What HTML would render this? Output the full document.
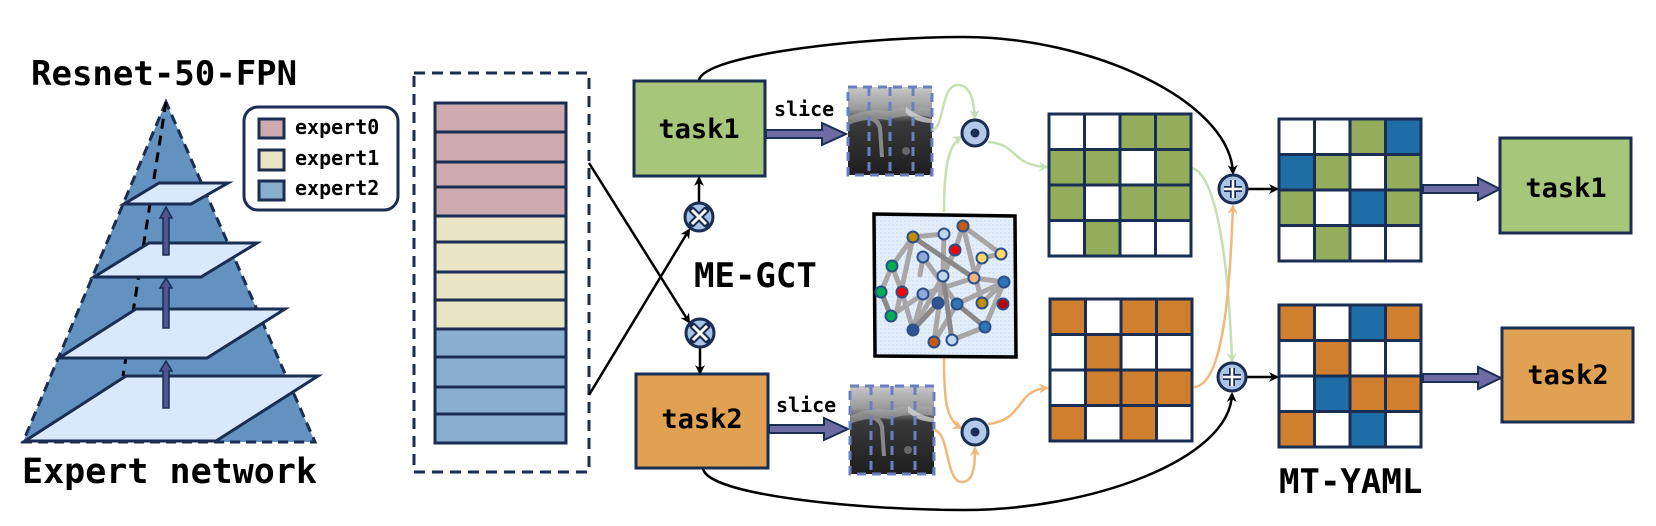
<!DOCTYPE html>
<html><head><meta charset="utf-8"><style>
html,body{margin:0;padding:0;background:#fff;}
svg{display:block;}
text{font-family:"DejaVu Sans Mono","Liberation Mono",monospace;font-weight:bold;fill:#000;}
</style></head><body>
<svg width="1656" height="526" viewBox="0 0 1656 526" xmlns="http://www.w3.org/2000/svg">
<defs>
<marker id="ab" markerWidth="10" markerHeight="10" refX="8" refY="5" orient="auto" markerUnits="userSpaceOnUse"><path d="M0,0 L10,5 L0,10 L3,5 Z" fill="#000"/></marker>
<marker id="ag" markerWidth="10" markerHeight="10" refX="8" refY="5" orient="auto" markerUnits="userSpaceOnUse"><path d="M0,0 L10,5 L0,10 L3,5 Z" fill="#c5e0b4"/></marker>
<marker id="ao" markerWidth="10" markerHeight="10" refX="8" refY="5" orient="auto" markerUnits="userSpaceOnUse"><path d="M0,0 L10,5 L0,10 L3,5 Z" fill="#f0b87a"/></marker>
<pattern id="dots" width="4" height="4" patternUnits="userSpaceOnUse"><rect width="4" height="4" fill="#e4eefa"/><circle cx="1" cy="1" r="0.7" fill="#c4d6ee"/></pattern>
<linearGradient id="us" x1="0" y1="0" x2="0" y2="1"><stop offset="0" stop-color="#c8c8c8"/><stop offset="0.25" stop-color="#9a9a9a"/><stop offset="0.4" stop-color="#3a3a3a"/><stop offset="1" stop-color="#1e1e1e"/></linearGradient>
<g id="usimg">
<rect x="0" y="0" width="84" height="88" fill="url(#us)"/>
<path d="M0,30 Q20,20 40,24 Q60,16 84,22 L84,30 Q60,26 40,33 Q20,30 0,38Z" fill="#aaa" opacity="0.6"/>
<path d="M12,28 Q30,26 34,40 L36,70 L32,70 L30,42 Q28,32 12,32Z" fill="#888"/>
<path d="M58,20 Q70,30 84,32 L84,36 Q68,36 58,26Z" fill="#ddd" opacity="0.7"/>
<circle cx="58" cy="64" r="4" fill="#666"/>
<rect x="0" y="0" width="84" height="88" fill="none" stroke="#6b7fc0" stroke-width="3" stroke-dasharray="9,6"/>
<line x1="21" y1="0" x2="21" y2="88" stroke="#6b7fc0" stroke-width="3" stroke-dasharray="9,6"/>
<line x1="42" y1="0" x2="42" y2="88" stroke="#6b7fc0" stroke-width="3" stroke-dasharray="9,6"/>
<line x1="65" y1="0" x2="65" y2="88" stroke="#6b7fc0" stroke-width="3" stroke-dasharray="9,6"/>
</g>
</defs>

<text x="31" y="85" font-size="34">Resnet-50-FPN</text>
<polygon points="166,102 23,442 315,442" fill="#6492c0" stroke="#1a2d52" stroke-width="3" stroke-dasharray="10,6"/>
<line x1="166" y1="102" x2="123" y2="376" stroke="#000" stroke-width="3" stroke-dasharray="10,7"/>
<g fill="#dae8fc" stroke="#1a2d52" stroke-width="3" stroke-linejoin="miter">
<polygon points="126,376 318,376 216,441 25,441"/>
<polygon points="136,309 285,309 207,358 59,358"/>
<polygon points="149,243 257,243 201,277 94,277"/>
<polygon points="159,183 228,183 191,204 124,204"/>
</g>
<g fill="#4f5590" stroke="#1a2d52" stroke-width="1.5">
<path d="M163,408 L163,371 L160,371 L166,361 L172,371 L169,371 L169,408Z"/>
<path d="M163,328 L163,288 L160,288 L166,278 L172,288 L169,288 L169,328Z"/>
<path d="M163,255 L163,218 L160,218 L166,207 L172,218 L169,218 L169,255Z"/>
</g>
<text x="22" y="483" font-size="35">Expert network</text>

<rect x="244" y="107" width="154" height="103" rx="14" fill="#fff" stroke="#1a2d52" stroke-width="3"/>
<rect x="259" y="119" width="25" height="19" fill="#cdaaad" stroke="#1a2d52" stroke-width="3"/>
<rect x="259" y="150" width="25" height="20" fill="#e9e4c4" stroke="#1a2d52" stroke-width="3"/>
<rect x="259" y="181" width="25" height="19" fill="#89aece" stroke="#1a2d52" stroke-width="3"/>
<text x="295" y="134" font-size="20">expert0</text>
<text x="295" y="165" font-size="20">expert1</text>
<text x="295" y="195" font-size="20">expert2</text>

<rect x="414" y="73" width="175" height="399" fill="none" stroke="#1a2d52" stroke-width="3" stroke-dasharray="11,7"/>
<g stroke="#1a2d52" stroke-width="3">
<rect x="435" y="103" width="131" height="29" fill="#cdaaad"/>
<rect x="435" y="132" width="131" height="30" fill="#cdaaad"/>
<rect x="435" y="162" width="131" height="25" fill="#cdaaad"/>
<rect x="435" y="187" width="131" height="29" fill="#cdaaad"/>
<rect x="435" y="216" width="131" height="26" fill="#e9e4c4"/>
<rect x="435" y="242" width="131" height="30" fill="#e9e4c4"/>
<rect x="435" y="272" width="131" height="28" fill="#e9e4c4"/>
<rect x="435" y="300" width="131" height="29" fill="#e9e4c4"/>
<rect x="435" y="329" width="131" height="28" fill="#89aece"/>
<rect x="435" y="357" width="131" height="30" fill="#89aece"/>
<rect x="435" y="387" width="131" height="27" fill="#89aece"/>
<rect x="435" y="414" width="131" height="29" fill="#89aece"/>
</g>

<line x1="589" y1="163" x2="689" y2="322" stroke="#000" stroke-width="2.5" marker-end="url(#ab)"/>
<line x1="589" y1="395" x2="689" y2="230" stroke="#000" stroke-width="2.5" marker-end="url(#ab)"/>

<path d="M699,80 C705,55 860,37 964,37 C1090,37 1230,100 1233,173" fill="none" stroke="#000" stroke-width="2.5" marker-end="url(#ab)"/>
<path d="M703,468 C705,495 860,510 964,510 C1090,510 1230,460 1232,394" fill="none" stroke="#000" stroke-width="2.5" marker-end="url(#ab)"/>

<rect x="634" y="81" width="131" height="95" fill="#a7c67a" stroke="#1a2d52" stroke-width="3"/>
<text x="699" y="138" font-size="27" text-anchor="middle">task1</text>
<rect x="636" y="374" width="132" height="94" fill="#e1a152" stroke="#1a2d52" stroke-width="3"/>
<text x="702" y="428" font-size="27" text-anchor="middle">task2</text>

<line x1="699" y1="202" x2="699" y2="178" stroke="#000" stroke-width="2.5" marker-end="url(#ab)"/>
<line x1="700" y1="348" x2="700" y2="373" stroke="#000" stroke-width="2.5" marker-end="url(#ab)"/>
<g stroke="#1a2d52">
<circle cx="699" cy="217" r="14" fill="#aac4e6" stroke-width="3"/>
<circle cx="700" cy="333" r="14" fill="#aac4e6" stroke-width="3"/>
</g>
<g stroke="#1a2d52" stroke-width="7" stroke-linecap="round"><path d="M692,210 L706,224 M706,210 L692,224"/><path d="M693,326 L707,340 M707,326 L693,340"/></g>
<g stroke="#fff" stroke-width="3"><path d="M692,210 L706,224 M706,210 L692,224"/><path d="M693,326 L707,340 M707,326 L693,340"/></g>
<text x="694" y="287" font-size="34">ME-GCT</text>

<text x="774" y="116" font-size="20">slice</text>
<text x="776" y="412" font-size="20">slice</text>
<path d="M766,130 L822,130 L822,123 L846,134 L822,145 L822,138 L766,138Z" fill="#6c6ca3" stroke="#1a2d52" stroke-width="2"/>
<path d="M769,425 L824,425 L824,418 L848,429 L824,440 L824,433 L769,433Z" fill="#6c6ca3" stroke="#1a2d52" stroke-width="2"/>
<use href="#usimg" x="848" y="87"/>
<use href="#usimg" x="850" y="386"/>

<g fill="none" stroke-width="2.5">
<path d="M932,130 C945,128 940,85 958,85 C972,85 974,105 975,118" stroke="#c5e0b4" marker-end="url(#ag)"/>
<path d="M944,212 C944,170 948,145 961,137" stroke="#c5e0b4" marker-end="url(#ag)"/>
<path d="M988,142 C1020,145 1010,165 1047,167" stroke="#c5e0b4" marker-end="url(#ag)"/>
<path d="M1192,168 C1215,175 1228,250 1232,361" stroke="#c5e0b4" marker-end="url(#ag)"/>
<path d="M944,357 C944,400 946,420 961,428" stroke="#f0b87a" marker-end="url(#ao)"/>
<path d="M934,430 C950,432 945,482 962,482 C975,482 975,460 975,448" stroke="#f0b87a" marker-end="url(#ao)"/>
<path d="M988,424 C1025,420 1015,390 1047,388" stroke="#f0b87a" marker-end="url(#ao)"/>
<path d="M1194,387 C1225,385 1230,280 1233,206" stroke="#f0b87a" marker-end="url(#ao)"/>
</g>

<circle cx="975" cy="133" r="13" fill="#b3c9e9" stroke="#1a2d52" stroke-width="3"/>
<circle cx="975" cy="133" r="4.5" fill="#1a2d52"/>
<circle cx="975" cy="432" r="13" fill="#b3c9e9" stroke="#1a2d52" stroke-width="3"/>
<circle cx="975" cy="432" r="4.5" fill="#1a2d52"/>

<path d="M874,214 L1015,216 L1016,357 L875,356 Z" fill="url(#dots)" stroke="#000" stroke-width="3.5"/>
<g stroke="#a8a6a6" stroke-width="5" stroke-linecap="round" fill="none">
<path d="M913,237 L944,234 L943,276 L913,330 M913,237 L892,266 L902,292 L913,330 M913,237 L897,310 M963,226 L955,250 L943,276 M963,226 L1001,254 L982,258 M963,226 L982,303 M982,258 L974,278 L923,294 L891,316 L881,292 L892,266 M974,278 L1004,282 L985,327 L952,340 M943,276 L934,342 L957,304 L985,327 M923,257 L957,304 M923,294 L913,330 M957,304 L1004,282 M1004,282 L982,303 M923,257 L920,275"/>
</g>
<g stroke="#8a8888" stroke-width="5" fill="none"><path d="M913,237 L974,278 M938,303 L913,330 M881,292 L891,316 M957,304 L985,327 M943,276 L952,340"/></g>
<g stroke="#2d4f8a" stroke-width="2">
<circle cx="913" cy="237" r="5.5" fill="#bf9000"/>
<circle cx="944" cy="234" r="5.5" fill="#bdd7ee"/>
<circle cx="963" cy="226" r="5.5" fill="#c55a11"/>
<circle cx="955" cy="250" r="5.5" fill="#ff0000"/>
<circle cx="982" cy="258" r="5.5" fill="#ffd966"/>
<circle cx="1001" cy="254" r="5.5" fill="#ffd966"/>
<circle cx="923" cy="257" r="5.5" fill="#8faadc"/>
<circle cx="892" cy="266" r="5.5" fill="#00b050"/>
<circle cx="943" cy="276" r="5.5" fill="#bdd7ee"/>
<circle cx="974" cy="278" r="5.5" fill="#f4b183"/>
<circle cx="1004" cy="282" r="5.5" fill="#2e75b6"/>
<circle cx="881" cy="292" r="5.5" fill="#00b050"/>
<circle cx="902" cy="292" r="5.5" fill="#ff0000"/>
<circle cx="923" cy="294" r="5.5" fill="#8faadc"/>
<circle cx="938" cy="303" r="5.5" fill="#2f5597"/>
<circle cx="957" cy="304" r="5.5" fill="#2e75b6"/>
<circle cx="982" cy="303" r="5.5" fill="#bf9000"/>
<circle cx="1003" cy="304" r="5.5" fill="#c00000"/>
<circle cx="891" cy="316" r="5.5" fill="#00b050"/>
<circle cx="913" cy="330" r="5.5" fill="#2f5597"/>
<circle cx="985" cy="327" r="5.5" fill="#2e75b6"/>
<circle cx="934" cy="342" r="5.5" fill="#c55a11"/>
<circle cx="952" cy="340" r="5.5" fill="#bdd7ee"/>
</g>

<g stroke="#1a2d52" stroke-width="3">
<rect x="1049" y="114" width="35.5" height="35.5" fill="#fff"/><rect x="1084.5" y="114" width="35.5" height="35.5" fill="#fff"/><rect x="1120" y="114" width="35.5" height="35.5" fill="#93ad5c"/><rect x="1155.5" y="114" width="35.5" height="35.5" fill="#93ad5c"/>
<rect x="1049" y="149.5" width="35.5" height="35.5" fill="#93ad5c"/><rect x="1084.5" y="149.5" width="35.5" height="35.5" fill="#93ad5c"/><rect x="1120" y="149.5" width="35.5" height="35.5" fill="#fff"/><rect x="1155.5" y="149.5" width="35.5" height="35.5" fill="#93ad5c"/>
<rect x="1049" y="185" width="35.5" height="35.5" fill="#93ad5c"/><rect x="1084.5" y="185" width="35.5" height="35.5" fill="#fff"/><rect x="1120" y="185" width="35.5" height="35.5" fill="#93ad5c"/><rect x="1155.5" y="185" width="35.5" height="35.5" fill="#93ad5c"/>
<rect x="1049" y="220.5" width="35.5" height="35.5" fill="#fff"/><rect x="1084.5" y="220.5" width="35.5" height="35.5" fill="#93ad5c"/><rect x="1120" y="220.5" width="35.5" height="35.5" fill="#fff"/><rect x="1155.5" y="220.5" width="35.5" height="35.5" fill="#fff"/>
<rect x="1050" y="299" width="35.5" height="35.5" fill="#cf7f2e"/><rect x="1085.5" y="299" width="35.5" height="35.5" fill="#fff"/><rect x="1121" y="299" width="35.5" height="35.5" fill="#cf7f2e"/><rect x="1156.5" y="299" width="35.5" height="35.5" fill="#cf7f2e"/>
<rect x="1050" y="334.5" width="35.5" height="35.5" fill="#fff"/><rect x="1085.5" y="334.5" width="35.5" height="35.5" fill="#cf7f2e"/><rect x="1121" y="334.5" width="35.5" height="35.5" fill="#fff"/><rect x="1156.5" y="334.5" width="35.5" height="35.5" fill="#fff"/>
<rect x="1050" y="370" width="35.5" height="35.5" fill="#fff"/><rect x="1085.5" y="370" width="35.5" height="35.5" fill="#cf7f2e"/><rect x="1121" y="370" width="35.5" height="35.5" fill="#cf7f2e"/><rect x="1156.5" y="370" width="35.5" height="35.5" fill="#cf7f2e"/>
<rect x="1050" y="405.5" width="35.5" height="35.5" fill="#cf7f2e"/><rect x="1085.5" y="405.5" width="35.5" height="35.5" fill="#fff"/><rect x="1121" y="405.5" width="35.5" height="35.5" fill="#cf7f2e"/><rect x="1156.5" y="405.5" width="35.5" height="35.5" fill="#fff"/>
<rect x="1279" y="119" width="35.5" height="35.5" fill="#fff"/><rect x="1314.5" y="119" width="35.5" height="35.5" fill="#fff"/><rect x="1350" y="119" width="35.5" height="35.5" fill="#93ad5c"/><rect x="1385.5" y="119" width="35.5" height="35.5" fill="#1f6da7"/>
<rect x="1279" y="154.5" width="35.5" height="35.5" fill="#1f6da7"/><rect x="1314.5" y="154.5" width="35.5" height="35.5" fill="#93ad5c"/><rect x="1350" y="154.5" width="35.5" height="35.5" fill="#fff"/><rect x="1385.5" y="154.5" width="35.5" height="35.5" fill="#93ad5c"/>
<rect x="1279" y="190" width="35.5" height="35.5" fill="#93ad5c"/><rect x="1314.5" y="190" width="35.5" height="35.5" fill="#fff"/><rect x="1350" y="190" width="35.5" height="35.5" fill="#1f6da7"/><rect x="1385.5" y="190" width="35.5" height="35.5" fill="#93ad5c"/>
<rect x="1279" y="225.5" width="35.5" height="35.5" fill="#fff"/><rect x="1314.5" y="225.5" width="35.5" height="35.5" fill="#93ad5c"/><rect x="1350" y="225.5" width="35.5" height="35.5" fill="#fff"/><rect x="1385.5" y="225.5" width="35.5" height="35.5" fill="#fff"/>
<rect x="1279" y="305" width="35.5" height="35.5" fill="#cf7f2e"/><rect x="1314.5" y="305" width="35.5" height="35.5" fill="#fff"/><rect x="1350" y="305" width="35.5" height="35.5" fill="#1f6da7"/><rect x="1385.5" y="305" width="35.5" height="35.5" fill="#cf7f2e"/>
<rect x="1279" y="340.5" width="35.5" height="35.5" fill="#fff"/><rect x="1314.5" y="340.5" width="35.5" height="35.5" fill="#cf7f2e"/><rect x="1350" y="340.5" width="35.5" height="35.5" fill="#fff"/><rect x="1385.5" y="340.5" width="35.5" height="35.5" fill="#fff"/>
<rect x="1279" y="376" width="35.5" height="35.5" fill="#fff"/><rect x="1314.5" y="376" width="35.5" height="35.5" fill="#1f6da7"/><rect x="1350" y="376" width="35.5" height="35.5" fill="#cf7f2e"/><rect x="1385.5" y="376" width="35.5" height="35.5" fill="#cf7f2e"/>
<rect x="1279" y="411.5" width="35.5" height="35.5" fill="#cf7f2e"/><rect x="1314.5" y="411.5" width="35.5" height="35.5" fill="#fff"/><rect x="1350" y="411.5" width="35.5" height="35.5" fill="#1f6da7"/><rect x="1385.5" y="411.5" width="35.5" height="35.5" fill="#fff"/>
</g>

<line x1="1248" y1="189" x2="1277" y2="189" stroke="#000" stroke-width="2.5" marker-end="url(#ab)"/>
<line x1="1247" y1="377" x2="1277" y2="377" stroke="#000" stroke-width="2.5" marker-end="url(#ab)"/>
<circle cx="1233" cy="189" r="14" fill="#aac4e6" stroke="#1a2d52" stroke-width="3"/>
<circle cx="1232" cy="377" r="14" fill="#aac4e6" stroke="#1a2d52" stroke-width="3"/>
<g stroke="#1a2d52" stroke-width="6"><path d="M1233,180 V198 M1224,189 H1242"/><path d="M1232,368 V386 M1223,377 H1241"/></g>
<g stroke="#fff" stroke-width="2.5"><path d="M1233,180 V198 M1224,189 H1242"/><path d="M1232,368 V386 M1223,377 H1241"/></g>

<path d="M1423,185 L1478,185 L1478,178 L1500,189 L1478,200 L1478,193 L1423,193Z" fill="#6c6ca3" stroke="#1a2d52" stroke-width="2"/>
<path d="M1423,374 L1478,374 L1478,367 L1501,378 L1478,389 L1478,382 L1423,382Z" fill="#6c6ca3" stroke="#1a2d52" stroke-width="2"/>
<rect x="1500" y="138" width="131" height="95" fill="#a7c67a" stroke="#1a2d52" stroke-width="3"/>
<text x="1566" y="197" font-size="27" text-anchor="middle">task1</text>
<rect x="1502" y="328" width="131" height="94" fill="#e1a152" stroke="#1a2d52" stroke-width="3"/>
<text x="1568" y="384" font-size="27" text-anchor="middle">task2</text>
<text x="1279" y="493" font-size="34">MT-YAML</text>
</svg>
</body></html>
